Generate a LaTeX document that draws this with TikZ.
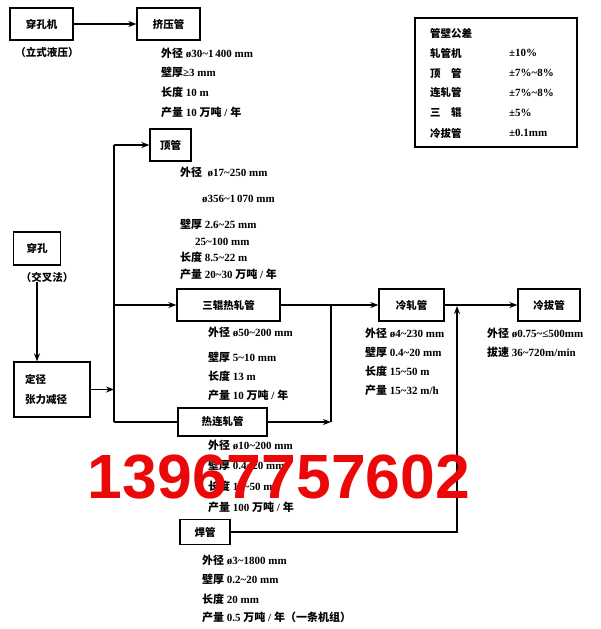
\documentclass[tikz,border=0pt]{standalone}
\usepackage{fontspec}
\usetikzlibrary{arrows.meta}
\setmainfont{Liberation Serif}
\newfontfamily\cj{Noto Sans CJK SC}
\newfontfamily\wmfont{Liberation Sans}
\newcommand\zh[1]{{\cj\bfseries #1}}
\newcommand\tl{\textasciitilde}
\definecolor{wmred}{RGB}{235,8,8}
\tikzset{
  box/.style={draw, line width=1.3pt, inner sep=0pt, font=\cj\bfseries\fontsize{10.5}{13}\selectfont},
  lbl/.style={inner sep=0pt, font=\cj\bfseries\fontsize{10.5}{13}\selectfont},
  dt/.style={anchor=west, inner sep=0pt, font=\bfseries\fontsize{11}{12}\selectfont},
  conn/.style={line width=1.3pt},
  arr/.style={-{Stealth[length=8pt,width=6pt]}},
  wm/.style={inner sep=0pt, text=wmred, font=\wmfont\bfseries\fontsize{62.5}{63}\selectfont}
}
\begin{document}
\begin{tikzpicture}[x=1pt,y=-1pt]
\useasboundingbox (0,0) rectangle (600,629);
\fill[white] (0,0) rectangle (600,629);
% top row
\node[box, minimum width=63, minimum height=32] (A) at (41.5,24) {穿孔机};
\node[lbl] (Alab) at (47,52) {（立式液压）};
\node[box, minimum width=63, minimum height=32] (B) at (168.5,24) {挤压管};
\draw[conn,arr] (A) -- (B);
\node[dt] (b1) at (161,53) {\zh{外径} ø30\tl1\,400 mm};
\node[dt] (b2) at (161,72) {\zh{壁厚}≥3 mm};
\node[dt] (b3) at (161,92) {\zh{长度} 10 m};
\node[dt] (b4) at (161,112) {\zh{产量} 10 \zh{万吨} / \zh{年}};
% legend
\node[draw, line width=1.2pt, minimum width=162, minimum height=129, inner sep=0pt] (L) at (496,82.5) {};
\node[lbl, anchor=west] (L0) at (430,33) {管壁公差};
\node[lbl, anchor=west] (L1) at (430,53) {轧管机};
\node[lbl, anchor=west] (L2) at (430,73) {顶　管};
\node[lbl, anchor=west] (L3) at (430,93) {连轧管};
\node[lbl, anchor=west] (L4) at (430,113) {三　辊};
\node[lbl, anchor=west] (L5) at (430,133) {冷拔管};
\node[dt] (V1) at (509,53) {±10\%};
\node[dt] (V2) at (509,73) {±7\%\tl8\%};
\node[dt] (V3) at (509,93) {±7\%\tl8\%};
\node[dt] (V4) at (509,113) {±5\%};
\node[dt] (V5) at (509,133) {±0.1mm};
% 顶管
\node[box, minimum width=41, minimum height=32] (C) at (170.5,145) {顶管};
\node[dt] (c1) at (180,172) {\zh{外径}\ \ ø17\tl250 mm};
\node[dt] (c2) at (202,199) {ø356\tl1\,070 mm};
\node[dt] (c3) at (180,224) {\zh{壁厚} 2.6\tl25 mm};
\node[dt] (c4) at (195,242) {25\tl100 mm};
\node[dt] (c5) at (180,257) {\zh{长度} 8.5\tl22 m};
\node[dt] (c6) at (180,274) {\zh{产量} 20\tl30 \zh{万吨} / \zh{年}};
% left column
\node[box, minimum width=47, minimum height=33] (D) at (37,248.5) {穿孔};
\node[lbl] (Dlab) at (47,277) {（交叉法）};
\node[box, minimum width=76, minimum height=55, align=left, text width=54pt, inner xsep=11pt] (E) at (52,389.5) {定径\\[7pt]张力减径};
\draw[conn,arr] (Dlab.south -| D) -- (E.north -| D);
\coordinate (t1) at (114,145);
\coordinate (t2) at (114,422);
% 三辊热轧管
\node[box, minimum width=103, minimum height=32] (F) at (228.5,305) {三辊热轧管};
\node[dt] (f1) at (208,332) {\zh{外径} ø50\tl200 mm};
\node[dt] (f2) at (208,357) {\zh{壁厚} 5\tl10 mm};
\node[dt] (f3) at (208,376) {\zh{长度} 13 m};
\node[dt] (f4) at (208,395) {\zh{产量} 10 \zh{万吨} / \zh{年}};
% 热连轧管
\node[box, minimum width=89, minimum height=28] (G) at (222.5,422) {热连轧管};
\node[dt] (g1) at (208,445) {\zh{外径} ø10\tl200 mm};
\node[dt] (g2) at (208,465) {\zh{壁厚} 0.4\tl20 mm};
\node[dt] (g3) at (208,486) {\zh{长度} 15\tl50 m};
\node[dt] (g4) at (208,507) {\zh{产量} 100 \zh{万吨} / \zh{年}};
% 冷轧管
\node[box, minimum width=65, minimum height=32] (H) at (411.5,305) {冷轧管};
\node[dt] (h1) at (365,333) {\zh{外径} ø4\tl230 mm};
\node[dt] (h2) at (365,352) {\zh{壁厚} 0.4\tl20 mm};
\node[dt] (h3) at (365,371) {\zh{长度} 15\tl50 m};
\node[dt] (h4) at (365,390) {\zh{产量} 15\tl32 m/h};
% 冷拔管
\node[box, minimum width=62, minimum height=32] (I) at (549,305) {冷拔管};
\node[dt] (i1) at (487,333) {\zh{外径} ø0.75\tl≤500mm};
\node[dt] (i2) at (487,352) {\zh{拔速} 36\tl720m/min};
% 焊管
\node[box, minimum width=50, minimum height=25] (J) at (205,532) {焊管};
\node[dt] (j1) at (202,560) {\zh{外径} ø3\tl1800 mm};
\node[dt] (j2) at (202,579) {\zh{壁厚} 0.2\tl20 mm};
\node[dt] (j3) at (202,599) {\zh{长度} 20 mm};
\node[dt] (j4) at (202,617) {\zh{产量} 0.5 \zh{万吨} / \zh{年}\zh{（一条机组）}};
% connectors
\draw[conn,arr] (E.east) -- (E.east -| t1);
\draw[conn] (t1) -- (t2);
\draw[conn,arr] (t1) -- (C.west);
\draw[conn,arr] (t1 |- F.west) -- (F.west);
\draw[conn] (t2) -- (G.west);
\coordinate (m1) at (331,305);
\coordinate (m2) at (331,422);
\draw[conn,arr] (F) -- (H);
\draw[conn] (m1) -- (m2);
\draw[conn,arr] (G) -- (m2);
\draw[conn,arr] (H) -- (I);
\coordinate (k1) at (457,532);
\coordinate (k2) at (457,306);
\draw[conn,arr] (J) -- (k1) -- (k2);
% watermark
\node[wm, anchor=base] (W) at (279,498) {13967757602};
\end{tikzpicture}
\end{document}
